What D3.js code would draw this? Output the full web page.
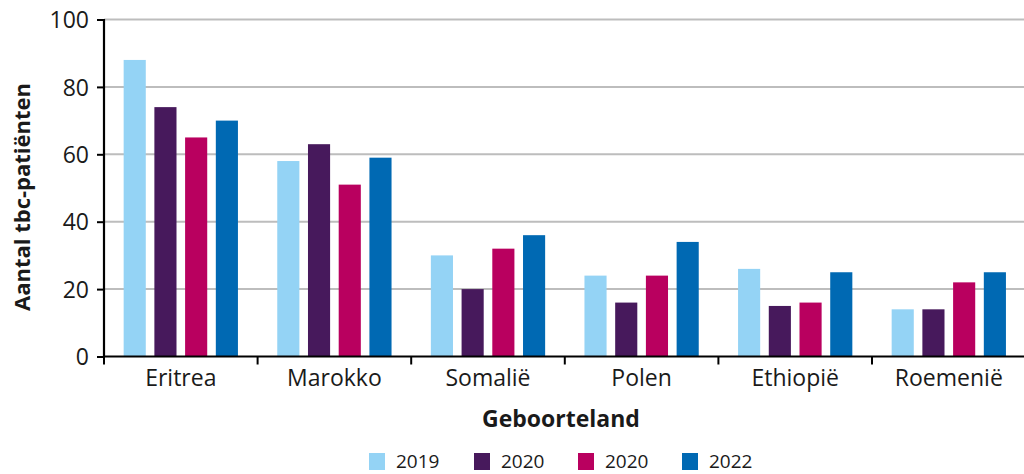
<!DOCTYPE html>
<html><head><meta charset="utf-8">
<script src="https://cdn.jsdelivr.net/npm/d3@7"></script>
<style>body{margin:0;background:#fff}svg{display:block}</style>
</head><body>
<script>
const categories = ["Eritrea","Marokko","Somalië","Polen","Ethiopië","Roemenië"];
const seriesNames = ["2019","2020","2020 ","2022"];
const seriesLabels = ["2019","2020","2020","2022"];
const s2019 = [88,58,30,24,26,14];
const s2020a = [74,63,20,16,15,14];
const s2020b = [65,51,32,24,16,22];
const s2022 = [70,59,36,34,25,25];
const colors = ["#94d3f5","#47195c","#b9005f","#0069b3"];
const yTicks = [0,20,40,60,80,100];

const FONT = "'Open Sans', sans-serif";
const TXT = "#1a1a1a";
const seriesVals = [s2019,s2020a,s2020b,s2022];
const W=1024,H=474;
const m={left:104,right:0,top:19.5,bottom:117.5};
const svg=d3.select("body").append("svg").attr("width",W).attr("height",H);
const x0=d3.scaleBand().domain(categories).range([m.left,W+1.6]);
const x1=d3.scaleBand().domain(seriesNames).range([0,x0.bandwidth()]).paddingInner(0.28).paddingOuter(0.64);
const y=d3.scaleLinear().domain([0,100]).range([H-m.bottom,m.top]);

// gridlines
svg.append("g").selectAll("line").data(yTicks.filter(d=>d>0)).join("line")
 .attr("x1",m.left).attr("x2",W).attr("y1",d=>y(d)).attr("y2",d=>y(d))
 .attr("stroke","#bdbdbd").attr("stroke-width",2);

// bars
const g=svg.append("g");
categories.forEach((c,i)=>{
  seriesNames.forEach((s,j)=>{
    g.append("rect").attr("x",x0(c)+x1(s)).attr("width",x1.bandwidth())
     .attr("y",y(seriesVals[j][i])).attr("height",y(0)-y(seriesVals[j][i]))
     .attr("fill",colors[j]);
  });
});

// y axis
const ya=svg.append("g").attr("transform",`translate(${m.left},0)`)
 .call(d3.axisLeft(y).tickValues(yTicks).tickSize(7).tickPadding(8));
ya.attr("font-size",null).attr("font-family",null);
ya.select(".domain").attr("stroke","#000").attr("stroke-width",2.2).attr("d",`M0,${y(100)-0.5}V${y(0)}`);
ya.selectAll(".tick line").attr("stroke","#000").attr("stroke-width",2);
ya.selectAll(".tick text").style("font-size","23px").style("font-family",FONT).attr("fill",TXT).attr("dy","0.36em");

// x axis
const xa=svg.append("g").attr("transform",`translate(0,${y(0)})`)
 .call(d3.axisBottom(x0).tickSize(0).tickPadding(13));
xa.attr("font-size",null).attr("font-family",null);
xa.select(".domain").attr("stroke","#000").attr("stroke-width",2).attr("d",`M${m.left},0H${W}`);
xa.selectAll(".tick text").style("font-size","23px").style("font-family",FONT).attr("fill",TXT);
// category boundary ticks
svg.append("g").selectAll("line").data(categories).join("line")
 .attr("x1",d=>x0(d)).attr("x2",d=>x0(d)).attr("y1",y(0)).attr("y2",y(0)+8)
 .attr("stroke","#000").attr("stroke-width",2);

// axis titles
svg.append("text").attr("transform",`translate(30,197) rotate(-90)`).attr("text-anchor","middle")
 .style("font-size","22px").style("font-family",FONT).attr("font-weight","bold").attr("fill",TXT).text("Aantal tbc-patiënten");
svg.append("text").attr("x",561).attr("y",427).attr("text-anchor","middle")
 .style("font-size","23px").style("font-family",FONT).attr("font-weight","bold").attr("fill",TXT).text("Geboorteland");

// legend
const lx=[369,474,578,682];
const lg=svg.append("g");
seriesLabels.forEach((s,j)=>{
  lg.append("rect").attr("x",lx[j]).attr("y",453).attr("width",16).attr("height",17).attr("fill",colors[j]);
  lg.append("text").attr("x",lx[j]+27).attr("y",468).style("font-size","19px").style("font-family",FONT).attr("fill",TXT).text(s);
});
</script>
</body></html>
